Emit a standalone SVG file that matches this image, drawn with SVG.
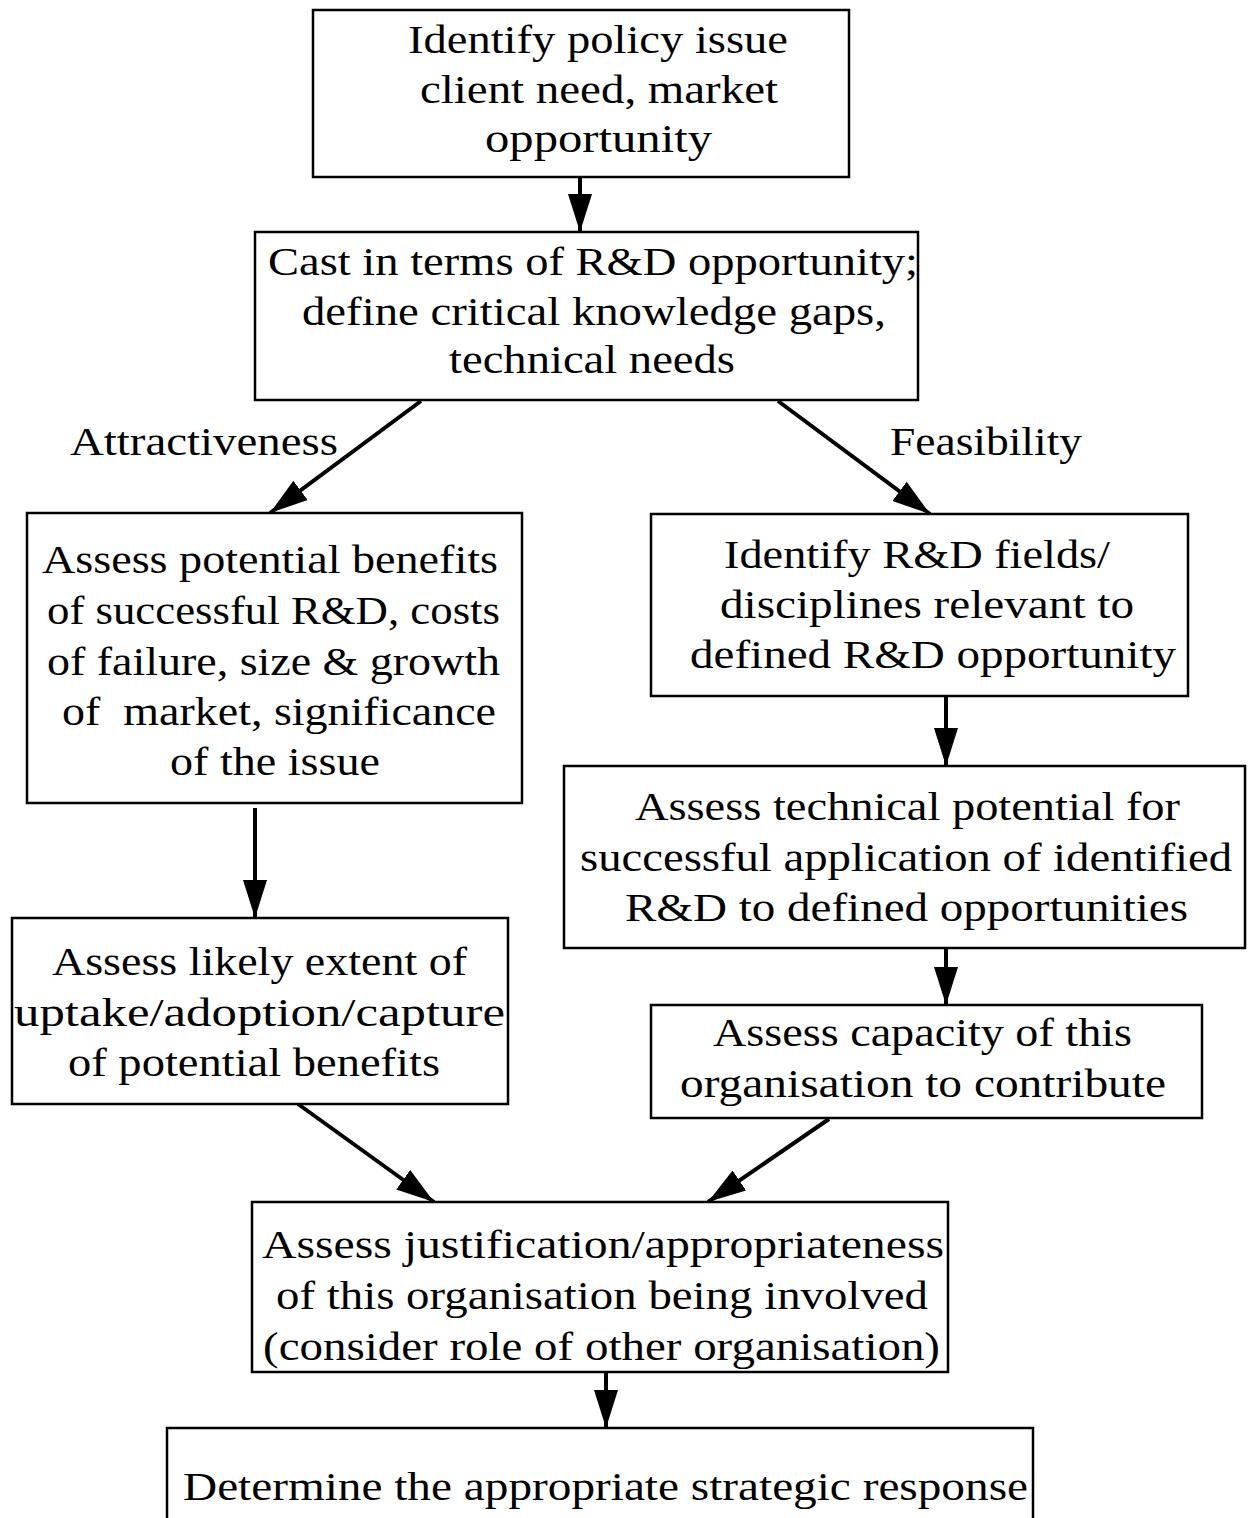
<svg xmlns="http://www.w3.org/2000/svg" width="1255" height="1518" viewBox="0 0 1255 1518">
<style>
.box{fill:#fff;stroke:#000;stroke-width:2.5}
.t{font-family:"Liberation Serif","DejaVu Serif",serif;font-size:41px;fill:#000}
.conn{stroke:#000;stroke-width:4;fill:none;marker-end:url(#ah)}
</style>
<defs>
<marker id="ah" markerUnits="userSpaceOnUse" markerWidth="40" markerHeight="26" refX="38" refY="12" orient="auto" viewBox="0 0 40 24">
<path d="M0,0 L38,12 L0,24 z" fill="#000"/>
</marker>
</defs>
<rect width="1255" height="1518" fill="#fff"/>
<g id="connectors">
<line class="conn" x1="580" y1="178" x2="580" y2="232"/>
<line class="conn" x1="421" y1="401" x2="270" y2="513"/>
<line class="conn" x1="778" y1="401" x2="930" y2="514"/>
<line class="conn" x1="946" y1="697" x2="946" y2="766"/>
<line class="conn" x1="946" y1="949" x2="946" y2="1005"/>
<line class="conn" x1="255" y1="808" x2="255" y2="918"/>
<line class="conn" x1="298" y1="1104" x2="434" y2="1202"/>
<line class="conn" x1="829" y1="1119" x2="708" y2="1202"/>
<line class="conn" x1="606" y1="1373" x2="606" y2="1428"/>
</g>
<g id="label-attractiveness"><text class="t" x="70" y="455" textLength="268" lengthAdjust="spacingAndGlyphs">Attractiveness</text></g>
<g id="label-feasibility"><text class="t" x="890" y="455" textLength="192" lengthAdjust="spacingAndGlyphs">Feasibility</text></g>
<g id="n1">
<rect class="box" x="313" y="10" width="536" height="167"/>
<text class="t" x="408" y="53" textLength="380" lengthAdjust="spacingAndGlyphs">Identify policy issue</text>
<text class="t" x="420" y="103" textLength="358" lengthAdjust="spacingAndGlyphs">client need, market</text>
<text class="t" x="485" y="152" textLength="227" lengthAdjust="spacingAndGlyphs">opportunity</text>
</g>
<g id="n2">
<rect class="box" x="255" y="232" width="663" height="168"/>
<text class="t" x="268" y="275" textLength="650" lengthAdjust="spacingAndGlyphs">Cast in terms of R&amp;D opportunity;</text>
<text class="t" x="302" y="325" textLength="584" lengthAdjust="spacingAndGlyphs">define critical knowledge gaps,</text>
<text class="t" x="449" y="373" textLength="286" lengthAdjust="spacingAndGlyphs">technical needs</text>
</g>
<g id="n3">
<rect class="box" x="27" y="513" width="495" height="290"/>
<text class="t" x="42" y="573" textLength="456" lengthAdjust="spacingAndGlyphs">Assess potential benefits</text>
<text class="t" x="47" y="624" textLength="453" lengthAdjust="spacingAndGlyphs">of successful R&amp;D, costs</text>
<text class="t" x="47" y="675" textLength="453" lengthAdjust="spacingAndGlyphs">of failure, size &amp; growth</text>
<text class="t" x="62" y="725" textLength="434" lengthAdjust="spacingAndGlyphs" xml:space="preserve">of  market, significance</text>
<text class="t" x="170" y="775" textLength="210" lengthAdjust="spacingAndGlyphs">of the issue</text>
</g>
<g id="n4">
<rect class="box" x="651" y="514" width="537" height="182"/>
<text class="t" x="724" y="568" textLength="386" lengthAdjust="spacingAndGlyphs">Identify R&amp;D fields/</text>
<text class="t" x="720" y="618" textLength="414" lengthAdjust="spacingAndGlyphs">disciplines relevant to</text>
<text class="t" x="690" y="668" textLength="486" lengthAdjust="spacingAndGlyphs">defined R&amp;D opportunity</text>
</g>
<g id="n5">
<rect class="box" x="564" y="766" width="681" height="182"/>
<text class="t" x="635" y="820" textLength="545" lengthAdjust="spacingAndGlyphs">Assess technical potential for</text>
<text class="t" x="580" y="871" textLength="652" lengthAdjust="spacingAndGlyphs">successful application of identified</text>
<text class="t" x="625" y="921" textLength="563" lengthAdjust="spacingAndGlyphs">R&amp;D to defined opportunities</text>
</g>
<g id="n6">
<rect class="box" x="651" y="1005" width="551" height="113"/>
<text class="t" x="713" y="1046" textLength="419" lengthAdjust="spacingAndGlyphs">Assess capacity of this</text>
<text class="t" x="680" y="1097" textLength="486" lengthAdjust="spacingAndGlyphs">organisation to contribute</text>
</g>
<g id="n7">
<rect class="box" x="12" y="918" width="496" height="186"/>
<text class="t" x="52" y="975" textLength="415" lengthAdjust="spacingAndGlyphs">Assess likely extent of</text>
<text class="t" x="14" y="1026" textLength="491" lengthAdjust="spacingAndGlyphs">uptake/adoption/capture</text>
<text class="t" x="68" y="1076" textLength="372" lengthAdjust="spacingAndGlyphs">of potential benefits</text>
</g>
<g id="n8">
<rect class="box" x="252" y="1202" width="696" height="170"/>
<text class="t" x="262" y="1258" textLength="682" lengthAdjust="spacingAndGlyphs">Assess justification/appropriateness</text>
<text class="t" x="276" y="1309" textLength="652" lengthAdjust="spacingAndGlyphs">of this organisation being involved</text>
<text class="t" x="263" y="1360" textLength="677" lengthAdjust="spacingAndGlyphs">(consider role of other organisation)</text>
</g>
<g id="n9">
<rect class="box" x="167" y="1428" width="866" height="110"/>
<text class="t" x="183" y="1500" textLength="845" lengthAdjust="spacingAndGlyphs">Determine the appropriate strategic response</text>
</g>
</svg>
